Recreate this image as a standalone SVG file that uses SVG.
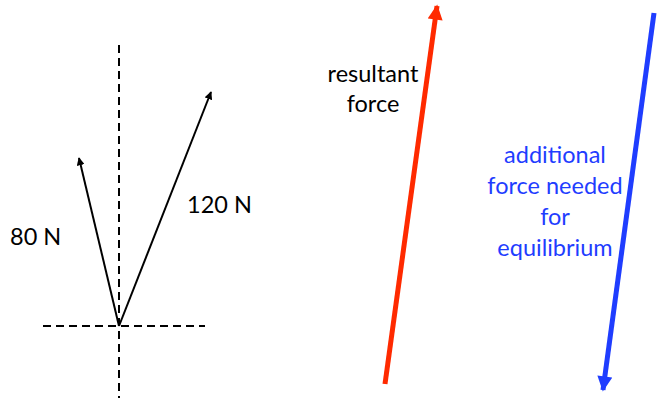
<svg xmlns="http://www.w3.org/2000/svg" width="658" height="398" viewBox="0 0 658 398">
<style>
.axis{stroke:#000;stroke-width:2;stroke-dasharray:8,5;fill:none}
.thin{stroke:#000;stroke-width:2;fill:none}
.lbl{font-family:Lato,"Open Sans",sans-serif;font-size:23.5px}
</style>
<defs>
<marker id="ah" viewBox="0 0 10 10" refX="9" refY="5" markerWidth="4" markerHeight="4" orient="auto" markerUnits="strokeWidth"><path d="M0,0 L10,5 L0,10 z" fill="#000"/></marker>
<marker id="ahr" viewBox="0 0 10 10" refX="9" refY="5" markerWidth="3.4" markerHeight="3" orient="auto" markerUnits="strokeWidth"><path d="M0,0 L10,5 L0,10 z" fill="#FF2A00"/></marker>
<marker id="ahb" viewBox="0 0 10 10" refX="9" refY="5" markerWidth="3.4" markerHeight="3" orient="auto" markerUnits="strokeWidth"><path d="M0,0 L10,5 L0,10 z" fill="#1F3DFF"/></marker>
</defs>
<g id="axes">
<line class="axis" x1="119" y1="45" x2="119" y2="398"/>
<line class="axis" x1="43" y1="326" x2="205" y2="326"/>
</g>
<g id="connectors">
<line class="thin" x1="119" y1="326" x2="79" y2="158" marker-end="url(#ah)"/>
<line class="thin" x1="119" y1="326" x2="211" y2="92" marker-end="url(#ah)"/>
<line x1="385" y1="384" x2="437" y2="6" stroke="#FF2A00" stroke-width="5" marker-end="url(#ahr)"/>
<line x1="654" y1="13" x2="603" y2="390" stroke="#1F3DFF" stroke-width="5" marker-end="url(#ahb)"/>
</g>
<g id="labels">
<text class="lbl" x="10" y="245">80 N</text>
<text class="lbl" x="187" y="213">120 N</text>
<g id="resultant">
<text class="lbl" x="373" y="82" text-anchor="middle">resultant</text>
<text class="lbl" x="373" y="112" text-anchor="middle">force</text>
</g>
<g id="additional" fill="#1F3DFF">
<text class="lbl" x="555" y="163" text-anchor="middle">additional</text>
<text class="lbl" x="555" y="194" text-anchor="middle">force needed</text>
<text class="lbl" x="555" y="225" text-anchor="middle">for</text>
<text class="lbl" x="555" y="256" text-anchor="middle">equilibrium</text>
</g>
</g>
</svg>
